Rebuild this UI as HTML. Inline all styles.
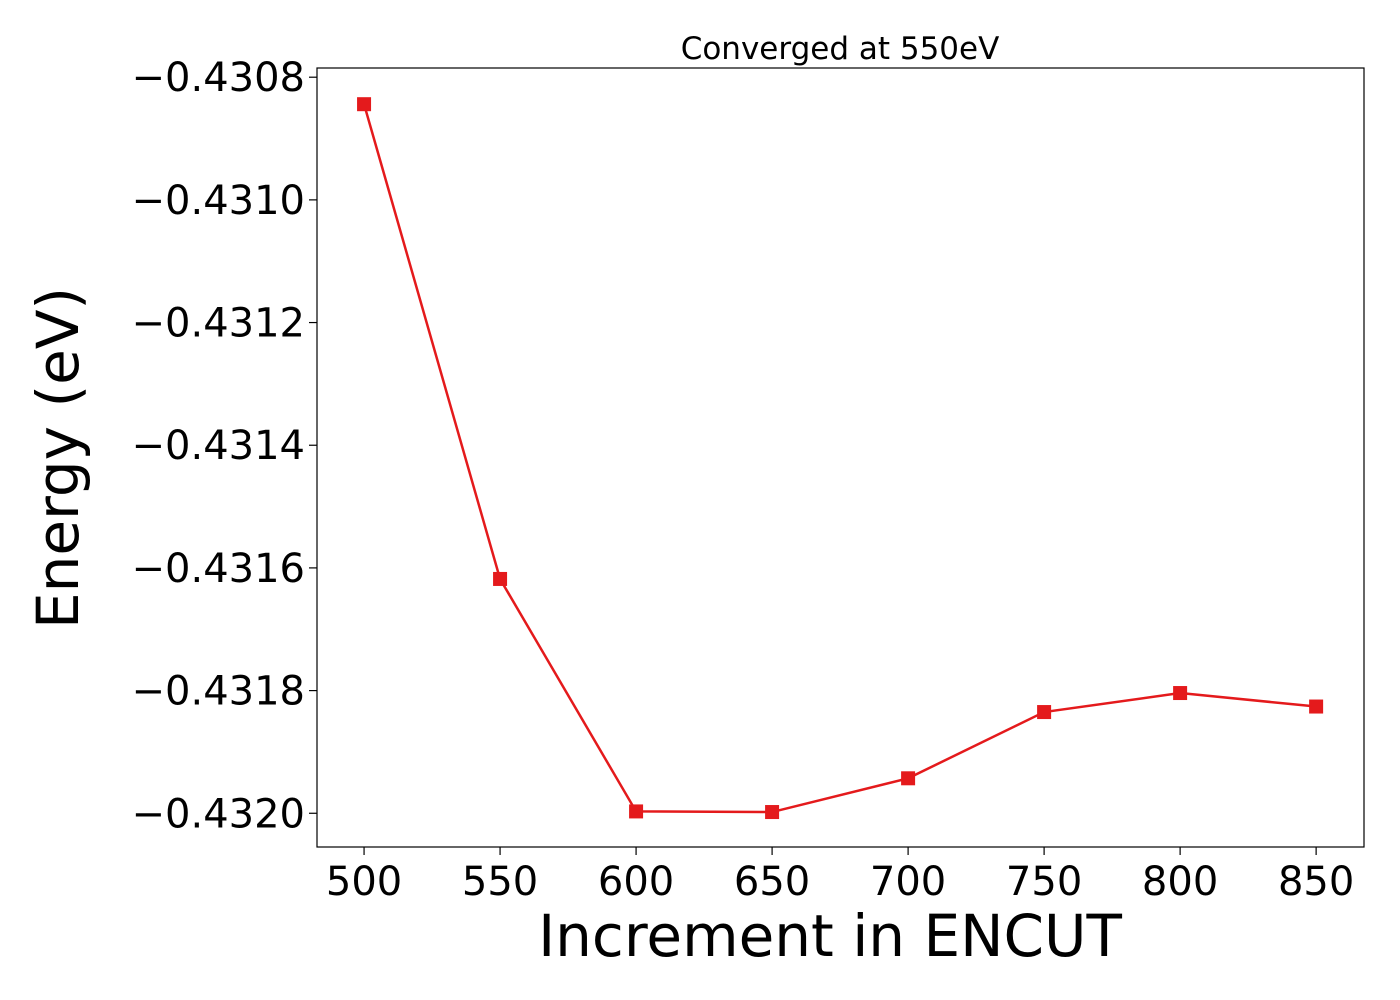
<!DOCTYPE html>
<html><head><meta charset="utf-8"><style>
body{margin:0;background:#fff}
svg{display:block;font-family:"DejaVu Sans","Liberation Sans",sans-serif}
</style></head><body>
<svg id="chart" width="1400" height="1000">
<text x="840" y="59" font-size="31" text-anchor="middle">Converged at 550eV</text>
<rect x="317" y="68" width="1047" height="779" fill="none" stroke="#000" stroke-width="1.2"/>
<g id="xticks"></g><g id="yticks"></g>
<polyline id="line" fill="none" stroke="#e41a1c" stroke-width="2.5"/>
<g id="pts"></g>
<text x="830" y="956" font-size="58" text-anchor="middle">Increment in ENCUT</text>
<text transform="translate(78,458) rotate(-90)" font-size="58" text-anchor="middle">Energy (eV)</text>
</svg>
<script>
const categories=[500,550,600,650,700,750,800,850];
const energies=[-0.430844,-0.431618,-0.431997,-0.431998,-0.431943,-0.431835,-0.431804,-0.431826];
const xTickLabels=[500,550,600,650,700,750,800,850];
const yTickLabels=[-0.4308,-0.4310,-0.4312,-0.4314,-0.4316,-0.4318,-0.4320];
const NS="http://www.w3.org/2000/svg";
const X0=317,X1=1364,Y0=68,Y1=847,xmin=482.7,xmax=867.6,ymin=-0.432055,ymax=-0.430785;
const sx=v=>X0+(v-xmin)/(xmax-xmin)*(X1-X0);
const sy=v=>Y1-(v-ymin)/(ymax-ymin)*(Y1-Y0);
function mk(t,a,p){const e=document.createElementNS(NS,t);for(const k in a)e.setAttribute(k,a[k]);p.appendChild(e);return e;}
const xt=document.getElementById('xticks'),yt=document.getElementById('yticks');
xTickLabels.forEach(v=>{
  const l=mk('line',{x1:sx(v),x2:sx(v),y1:Y1,y2:Y1+8,stroke:'#000','stroke-width':1.2},xt);
  
  
  const t=mk('text',{x:sx(v),y:Y1+48,'font-size':40,'text-anchor':'middle'},xt);
  
  
  t.textContent=v;
});
yTickLabels.forEach(v=>{
  const l=mk('line',{x1:X0-8,x2:X0,y1:sy(v),y2:sy(v),stroke:'#000','stroke-width':1.2},yt);
  
  
  const t=mk('text',{x:X0-12,y:sy(v)+14,'font-size':40,'text-anchor':'end'},yt);
  
  
  t.textContent='\u2212'+Math.abs(v).toFixed(4);
});
document.getElementById('line').setAttribute('points',categories.map((c,i)=>sx(c)+','+sy(energies[i])).join(' '));
const pg=document.getElementById('pts');
categories.forEach((c,i)=>{
  const r=mk('rect',{x:sx(c)-7,y:sy(energies[i])-7,width:14,height:14,fill:'#e41a1c'},pg);
  
  
});
</script>
</body></html>
